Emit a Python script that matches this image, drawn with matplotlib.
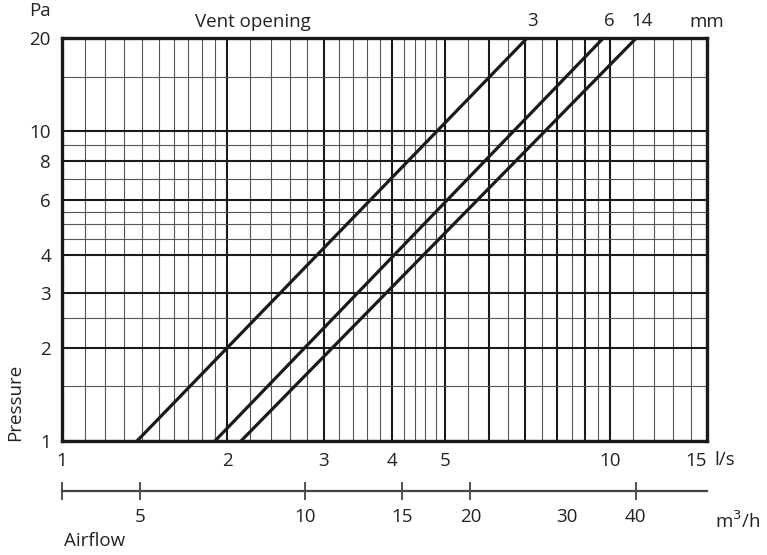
import matplotlib
matplotlib.use("Agg")
import matplotlib.pyplot as plt

plt.rcParams['font.family'] = ['Open Sans', 'DejaVu Sans']

# vent openings (mm) and the end points of each line (l/s at 1 Pa and at 20 Pa)
openings = ['3', '6', '14']
flow_at_1pa = [1.37, 1.90, 2.12]
flow_at_20pa = [7.05, 9.71, 11.15]
pressure_ends = [1, 20]

# grid / tick values
x_major = [1, 2, 3, 4, 5, 6, 7, 8, 9, 10, 15]
x_major_labels = ['1', '2', '3', '4', '5', '', '', '', '', '10', '15']
x_minor = [1.1, 1.2, 1.3, 1.4, 1.5, 1.6, 1.7, 1.8, 1.9,
           2.2, 2.4, 2.6, 2.8, 3.2, 3.4, 3.6, 3.8, 4.2, 4.4, 4.6, 4.8,
           5.5, 6.5, 7.5, 8.5, 9.5, 11, 12, 13, 14]
y_major = [1, 2, 3, 4, 6, 8, 10, 20]
y_minor = [1.5, 2.5, 4.5, 5, 5.5, 7, 9, 15]
m3h_ticks = [3.6, 5, 10, 15, 20, 30, 40]
m3h_labels = ['', '5', '10', '15', '20', '30', '40']

FS = 13.5
TXT = '#222222'

fig = plt.figure(figsize=(7.67, 5.55), dpi=100)
ax = fig.add_axes([62 / 767, 1 - 441 / 555, 645 / 767, 403 / 555])
ax.set_xscale('log')
ax.set_yscale('log')
ax.set_xlim(1, 15)
ax.set_ylim(1, 20)

ax.set_xticks(x_major)
ax.set_xticklabels(x_major_labels)
ax.set_xticks(x_minor, minor=True)
ax.set_xticklabels([], minor=True)
ax.set_yticks(y_major)
ax.set_yticklabels([str(v) for v in y_major])
ax.set_yticks(y_minor, minor=True)
ax.set_yticklabels([], minor=True)

ax.grid(which='major', color='#1a1a1a', linewidth=1.5)
ax.grid(which='minor', color='#555555', linewidth=0.8)
ax.set_axisbelow(True)
ax.tick_params(which='both', length=0, labelsize=FS, colors=TXT)
ax.tick_params(axis='x', pad=8)
ax.tick_params(axis='y', pad=8)
ax.get_xticklabels()[-1].set_horizontalalignment('right')
for s in ax.spines.values():
    s.set_linewidth(2.4)
    s.set_color('#1a1a1a')

for name, x0, x1 in zip(openings, flow_at_1pa, flow_at_20pa):
    ax.plot([x0, x1], pressure_ends, color='#1a1a1a', linewidth=2.3,
            solid_capstyle='butt', clip_on=False)
    ax.annotate(name, xy=(x1, 20), xytext=(4, 6), textcoords='offset points',
                ha='center', va='bottom', fontsize=FS, color=TXT,
                annotation_clip=False)

ax.text(0.296, 1.018, 'Vent opening', transform=ax.transAxes, ha='center',
        va='bottom', fontsize=FS, color=TXT)
ax.text(1.0, 1.018, 'mm', transform=ax.transAxes, ha='center',
        va='bottom', fontsize=FS, color=TXT)
ax.text(-0.034, 1.045, 'Pa', transform=ax.transAxes, ha='center',
        va='bottom', fontsize=FS, color=TXT)
ax.text(-0.072, 0.0, 'Pressure', transform=ax.transAxes, rotation=90,
        ha='center', va='bottom', fontsize=FS, color=TXT)
ax.text(1.012, -0.025, 'l/s', transform=ax.transAxes, ha='left',
        va='top', fontsize=FS, color=TXT)

# airflow in m3/h on a second axis below
sec = ax.secondary_xaxis(-0.124, functions=(lambda q: q * 3.6, lambda q: q / 3.6))
sec.set_xticks(m3h_ticks)
sec.set_xticklabels(m3h_labels)
sec.xaxis.set_minor_locator(matplotlib.ticker.NullLocator())
sec.tick_params(direction='inout', length=13, width=1.3, colors='#444444',
                labelsize=FS, labelcolor=TXT, pad=6)
sec.spines['bottom'].set_linewidth(1.6)
sec.spines['bottom'].set_color('#444444')
sec.xaxis.get_major_ticks()[5].tick1line.set_visible(False)

ax.text(1.012, -0.172, 'm$^3$/h', transform=ax.transAxes, ha='left',
        va='top', fontsize=FS, color=TXT)
ax.text(0.003, -0.225, 'Airflow', transform=ax.transAxes, ha='left',
        va='top', fontsize=FS, color=TXT)

fig.savefig('out.png', dpi=100)
